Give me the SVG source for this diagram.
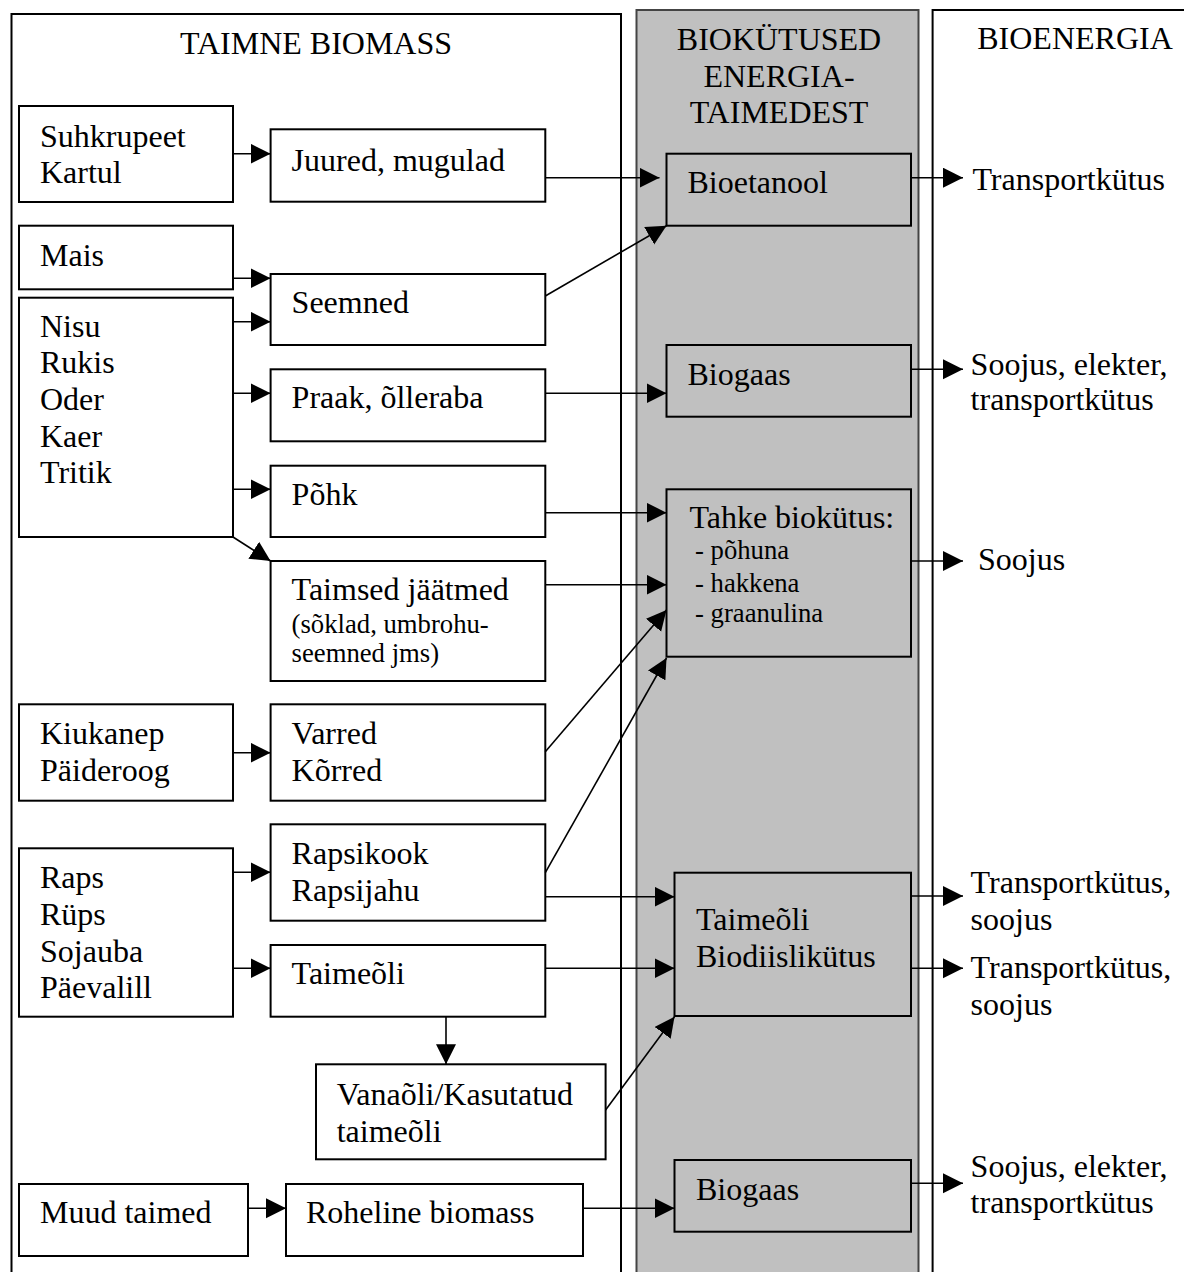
<svg xmlns="http://www.w3.org/2000/svg" width="1184" height="1272" viewBox="0 0 1184 1272">
<style>
text{font-family:"Liberation Serif","Times New Roman",serif;font-size:32px;fill:#000}
.s{font-size:26.7px}
.h{text-anchor:middle}
.box{fill:#fff;stroke:#000;stroke-width:2}
.gbox{fill:#c0c0c0;stroke:#000;stroke-width:2}
.panel{fill:#fff;stroke:#000;stroke-width:2}
.gpanel{fill:#c0c0c0;stroke:#444;stroke-width:2}
.c{fill:none;stroke:#000;stroke-width:1.6;marker-end:url(#ah)}
</style>
<defs>
<marker id="ah" markerUnits="userSpaceOnUse" markerWidth="21" markerHeight="21" refX="20" refY="10" orient="auto">
<path d="M0,0 L20,10 L0,20 z" fill="#000"/>
</marker>
</defs>
<rect width="1184" height="1272" fill="#fff"/>
<g id="panels">
<path class="panel" d="M11.5,1273 V14 H621 V1273"/>
<rect class="gpanel" x="636.5" y="10" width="282" height="1270"/>
<path class="panel" d="M932.6,1273 V10 H1190"/>
<text class="h" x="316" y="54">TAIMNE BIOMASS</text>
<text class="h" x="779" y="50">BIOKÜTUSED</text>
<text class="h" x="779" y="86.7">ENERGIA-</text>
<text class="h" x="779" y="123.3">TAIMEDEST</text>
<text class="h" x="1075" y="49.3">BIOENERGIA</text>
</g>
<g id="n-suhkrupeet"><rect class="box" x="19" y="106" width="214" height="96"/><text x="40" y="146.7">Suhkrupeet</text><text x="40" y="182.7">Kartul</text></g>
<g id="n-mais"><rect class="box" x="19" y="225.7" width="214" height="63.6"/><text x="40" y="265.7">Mais</text></g>
<g id="n-nisu"><rect class="box" x="19" y="297.7" width="214" height="239.3"/><text x="40" y="336.7">Nisu</text><text x="40" y="373.3">Rukis</text><text x="40" y="410">Oder</text><text x="40" y="446.7">Kaer</text><text x="40" y="483.3">Tritik</text></g>
<g id="n-kiukanep"><rect class="box" x="19" y="704.3" width="214" height="96.4"/><text x="40" y="744.3">Kiukanep</text><text x="40" y="780.7">Päideroog</text></g>
<g id="n-raps"><rect class="box" x="19" y="848.3" width="214" height="168.4"/><text x="40" y="888.3">Raps</text><text x="40" y="925">Rüps</text><text x="40" y="961.7">Sojauba</text><text x="40" y="998.3">Päevalill</text></g>
<g id="n-muud"><rect class="box" x="19" y="1184" width="229" height="72"/><text x="40" y="1223.3">Muud taimed</text></g>
<g id="n-juured"><rect class="box" x="270.6" y="129.3" width="274.7" height="72.4"/><text x="291.6" y="170.7">Juured, mugulad</text></g>
<g id="n-seemned"><rect class="box" x="270.6" y="274" width="274.7" height="71"/><text x="291.6" y="313.3">Seemned</text></g>
<g id="n-praak"><rect class="box" x="270.6" y="369.3" width="274.7" height="72"/><text x="291.6" y="408.3">Praak, õlleraba</text></g>
<g id="n-pohk"><rect class="box" x="270.6" y="465.7" width="274.7" height="71.3"/><text x="291.6" y="505">Põhk</text></g>
<g id="n-taimsed"><rect class="box" x="270.6" y="561" width="274.7" height="120"/><text x="291.6" y="600">Taimsed jäätmed</text><text class="s" x="291.6" y="633.3">(sõklad, umbrohu-</text><text class="s" x="291.6" y="661.7">seemned jms)</text></g>
<g id="n-varred"><rect class="box" x="270.6" y="704.3" width="274.7" height="96.4"/><text x="291.6" y="744.3">Varred</text><text x="291.6" y="780.7">Kõrred</text></g>
<g id="n-rapsikook"><rect class="box" x="270.6" y="824.3" width="274.7" height="96.4"/><text x="291.6" y="864.3">Rapsikook</text><text x="291.6" y="901">Rapsijahu</text></g>
<g id="n-taimeoli"><rect class="box" x="270.6" y="945" width="274.7" height="71.7"/><text x="291.6" y="984">Taimeõli</text></g>
<g id="n-vanaoli"><rect class="box" x="316" y="1064.3" width="289.6" height="95"/><text x="336.7" y="1105">Vanaõli/Kasutatud</text><text x="336.7" y="1141.7">taimeõli</text></g>
<g id="n-roheline"><rect class="box" x="286" y="1184" width="297" height="72"/><text x="306" y="1223.3">Roheline biomass</text></g>
<g id="n-bioetanool"><rect class="gbox" x="666.5" y="153.7" width="244.5" height="72"/><text x="687.5" y="192.7">Bioetanool</text></g>
<g id="n-biogaas1"><rect class="gbox" x="666.5" y="345" width="244.5" height="71.7"/><text x="687.5" y="385">Biogaas</text></g>
<g id="n-tahke"><rect class="gbox" x="666.5" y="489.3" width="244.5" height="167.4"/><text x="689.4" y="528.3">Tahke biokütus:</text><text class="s" x="695" y="559.3">- põhuna</text><text class="s" x="695" y="591.7">- hakkena</text><text class="s" x="695" y="621.7">- graanulina</text></g>
<g id="n-biodiisel"><rect class="gbox" x="674.5" y="872.7" width="236.5" height="143.3"/><text x="696" y="930">Taimeõli</text><text x="696" y="967.3">Biodiislikütus</text></g>
<g id="n-biogaas2"><rect class="gbox" x="674.5" y="1160" width="236.5" height="71.7"/><text x="696" y="1200">Biogaas</text></g>
<g id="o-1"><text x="972.4" y="190">Transportkütus</text></g>
<g id="o-2"><text x="970.6" y="375">Soojus, elekter,</text><text x="970.6" y="410">transportkütus</text></g>
<g id="o-3"><text x="978" y="570">Soojus</text></g>
<g id="o-4"><text x="970.6" y="893.3">Transportkütus,</text><text x="970.6" y="930">soojus</text></g>
<g id="o-5"><text x="970.6" y="978.3">Transportkütus,</text><text x="970.6" y="1015">soojus</text></g>
<g id="o-6"><text x="970.6" y="1176.7">Soojus, elekter,</text><text x="970.6" y="1213.3">transportkütus</text></g>
<g id="connectors">
<path class="c" d="M233,153.7 H270.6"/>
<path class="c" d="M545.3,177.7 H659.5"/>
<path class="c" d="M233,278.3 H270.6"/>
<path class="c" d="M233,321.7 H270.6"/>
<path class="c" d="M545.3,296 L666.5,225.7"/>
<path class="c" d="M233,393.3 H270.6"/>
<path class="c" d="M545.3,393.3 H666.5"/>
<path class="c" d="M233,489.3 H270.6"/>
<path class="c" d="M545.3,512.7 H666.5"/>
<path class="c" d="M233,537 L270.6,561"/>
<path class="c" d="M545.3,584.7 H666.5"/>
<path class="c" d="M545.3,751.7 L666.5,610"/>
<path class="c" d="M545.3,872.7 L666.5,658"/>
<path class="c" d="M233,752.7 H270.6"/>
<path class="c" d="M233,872.3 H270.6"/>
<path class="c" d="M545.3,896.7 H674.5"/>
<path class="c" d="M233,968.3 H270.6"/>
<path class="c" d="M545.3,968.3 H674.5"/>
<path class="c" d="M446,1016.7 V1064.3"/>
<path class="c" d="M605.6,1110 L674.5,1016.7"/>
<path class="c" d="M248,1208.3 H286"/>
<path class="c" d="M583,1208.3 H674.5"/>
<path class="c" d="M911,177.7 H963"/>
<path class="c" d="M911,369.3 H963"/>
<path class="c" d="M911,561 H963"/>
<path class="c" d="M911,896 H963"/>
<path class="c" d="M911,968.3 H963"/>
<path class="c" d="M911,1183.3 H963"/>
</g>
</svg>
